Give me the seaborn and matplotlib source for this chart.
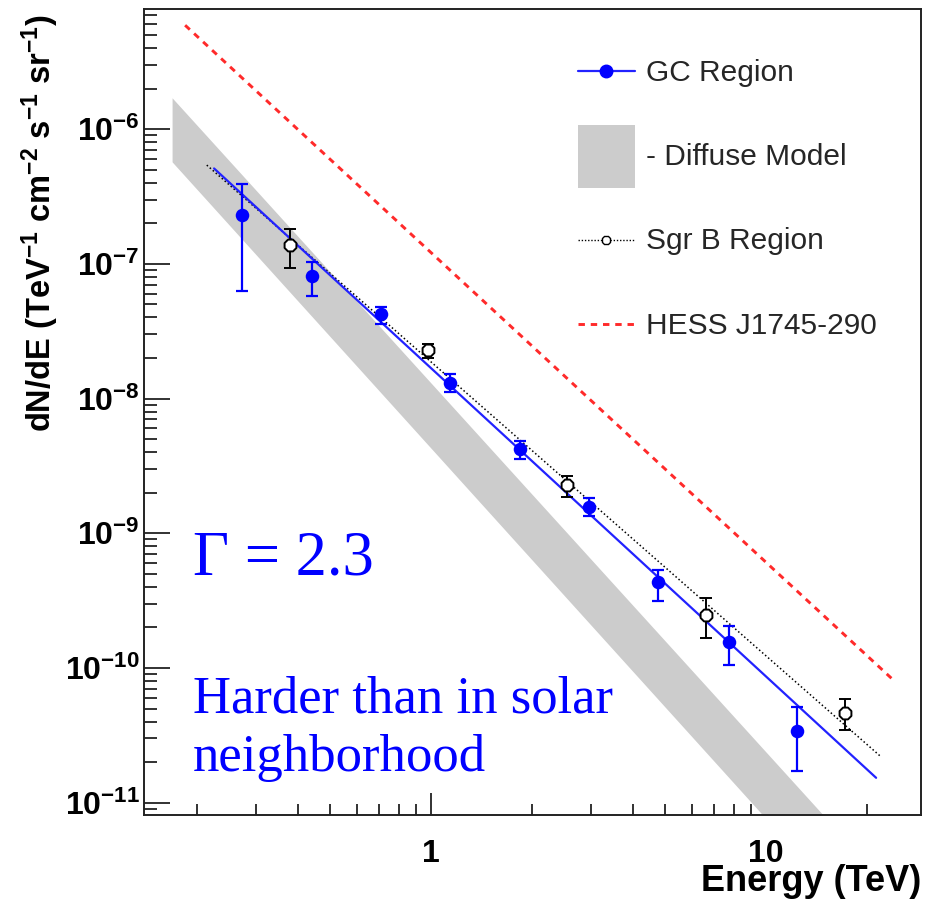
import numpy as np
import pandas as pd
import matplotlib
matplotlib.use("Agg")
import matplotlib.pyplot as plt
import seaborn as sns
from matplotlib.lines import Line2D
from matplotlib.patches import Patch
from matplotlib.legend_handler import HandlerLine2D
from matplotlib.ticker import LogLocator, FixedLocator, NullFormatter

# ---------------- data ----------------
gc_energy = [0.272, 0.44, 0.709, 1.14, 1.84, 2.96, 4.76, 7.77, 12.4]
gc_flux = [2.30e-7, 8.11e-8, 4.21e-8, 1.31e-8, 4.19e-9, 1.57e-9, 4.34e-10, 1.55e-10, 3.41e-11]
gc_flux_hi = [3.89e-7, 1.035e-7, 4.8e-8, 1.52e-8, 4.85e-9, 1.83e-9, 5.32e-10, 2.04e-10, 5.14e-11]
gc_flux_lo = [6.27e-8, 5.75e-8, 3.6e-8, 1.12e-8, 3.53e-9, 1.34e-9, 3.13e-10, 1.06e-10, 1.71e-11]

sgrb_energy = [0.378, 0.978, 2.55, 6.61, 17.2]
sgrb_flux = [1.38e-7, 2.29e-8, 2.28e-9, 2.47e-10, 4.65e-11]
sgrb_flux_hi = [1.80e-7, 2.56e-8, 2.67e-9, 3.30e-10, 5.86e-11]
sgrb_flux_lo = [9.25e-8, 1.99e-8, 1.85e-9, 1.66e-10, 3.49e-11]

gc_fit_energy = [0.225, 21.3]
gc_fit_flux = [5.11e-7, 1.53e-11]

sgrb_fit_energy = [0.214, 21.9]
sgrb_fit_flux = [5.41e-7, 2.22e-11]

hess_energy = [0.1844, 23.7]
hess_flux = [5.91e-6, 8.36e-11]

band_energy = [0.1686, 30.0]
band_upper = [1.71e-6, 1.17e-12]
band_lower = [5.72e-7, 3.7e-13]

x_tick_values = [1, 10]
x_tick_labels = ["1", "10"]
y_tick_exponents = [-11, -10, -9, -8, -7, -6]

# ---------------- style ----------------
sns.set_style("white")
plt.rcParams["font.family"] = ["Liberation Sans", "DejaVu Sans"]
plt.rcParams["mathtext.fontset"] = "custom"
plt.rcParams["mathtext.rm"] = "Liberation Sans"
plt.rcParams["mathtext.bf"] = "Liberation Sans:bold"
plt.rcParams["mathtext.default"] = "regular"

BLUE = "#0000ff"
LINE_BLUE = "#2222ff"
RED = "#ff2a2a"
GRAY = "#cccccc"
SERIF = ["Liberation Serif", "DejaVu Serif"]


class ShiftedLineHandler(HandlerLine2D):
    """Line handler drawn lower in its (tall) legend box, level with the label."""

    def __init__(self, shift_pt=7.0, **kw):
        super().__init__(**kw)
        self.shift_pt = shift_pt

    def create_artists(self, legend, orig_handle, xdescent, ydescent, width, height,
                       fontsize, trans):
        return super().create_artists(legend, orig_handle, xdescent,
                                      ydescent + 2 * self.shift_pt, width, height,
                                      fontsize, trans)


fig = plt.figure(figsize=(9.38, 9.0), dpi=100)
ax = fig.add_axes([144 / 938, 1 - 815 / 900, (921 - 144) / 938, (815 - 9) / 900])
ax.set_xscale("log")
ax.set_yscale("log")
ax.set_xlim(0.139, 29.0)
ax.set_ylim(8.1e-12, 7.8e-6)

# diffuse model band
ax.fill_between(band_energy, band_lower, band_upper, color=GRAY, linewidth=0, zorder=1.6)

# lines
sgrb_df = pd.DataFrame({"E": sgrb_fit_energy, "F": sgrb_fit_flux})
gc_df = pd.DataFrame({"E": gc_fit_energy, "F": gc_fit_flux})
hess_df = pd.DataFrame({"E": hess_energy, "F": hess_flux})
sns.lineplot(data=hess_df, x="E", y="F", ax=ax, color=RED, linewidth=2.1,
             linestyle=(0, (2.2, 2.0)), zorder=3)
sns.lineplot(data=sgrb_df, x="E", y="F", ax=ax, color="black", linewidth=1.1,
             linestyle=(0, (1, 1.6)), zorder=3)
sns.lineplot(data=gc_df, x="E", y="F", ax=ax, color=LINE_BLUE, linewidth=1.6, zorder=3.2)

# error bars
gc_f = np.array(gc_flux)
ax.errorbar(gc_energy, gc_flux,
            yerr=[gc_f - np.array(gc_flux_lo), np.array(gc_flux_hi) - gc_f],
            fmt="none", ecolor=BLUE, elinewidth=1.6, capsize=4.5, capthick=1.6, zorder=4)
sg_f = np.array(sgrb_flux)
ax.errorbar(sgrb_energy, sgrb_flux,
            yerr=[sg_f - np.array(sgrb_flux_lo), np.array(sgrb_flux_hi) - sg_f],
            fmt="none", ecolor="black", elinewidth=1.4, capsize=4.5, capthick=1.4, zorder=4)

# markers
sns.scatterplot(x=gc_energy, y=gc_flux, ax=ax, color=BLUE, s=95, edgecolor=BLUE,
                linewidth=0, zorder=5)
sns.scatterplot(x=sgrb_energy, y=sgrb_flux, ax=ax, color="white", s=85, edgecolor="black",
                linewidth=1.4, marker="8", zorder=5)

# axes styling
for s in ax.spines.values():
    s.set_color("#222222")
    s.set_linewidth(1.4)
ax.tick_params(axis="both", which="both", direction="in", colors="#222222",
               top=False, right=False, bottom=True, left=True)
ax.tick_params(axis="y", which="major", length=19, width=1.3, pad=3, labelsize=23)
ax.tick_params(axis="y", which="minor", length=9, width=1.3)
ax.tick_params(axis="x", which="major", length=16, width=1.3, pad=17.5, labelsize=23)
ax.tick_params(axis="x", which="minor", length=8, width=1.3)

ax.xaxis.set_major_locator(FixedLocator(x_tick_values))
ax.set_xticklabels(x_tick_labels, fontweight="bold")
ax.xaxis.set_minor_locator(LogLocator(base=10, subs=np.arange(2, 10)))
ax.xaxis.set_minor_formatter(NullFormatter())

ax.yaxis.set_major_locator(FixedLocator([10.0 ** e for e in y_tick_exponents]))
ax.set_yticklabels([r"$10^{%d}$" % e for e in y_tick_exponents], fontweight="bold")
ax.yaxis.set_minor_locator(LogLocator(base=10, subs=np.arange(2, 10), numticks=20))
ax.yaxis.set_minor_formatter(NullFormatter())
for lab in ax.get_xticklabels() + ax.get_yticklabels():
    lab.set_color("black")

ax.set_ylabel(r"dN/dE (TeV$^{-1}$ cm$^{-2}$ s$^{-1}$ sr$^{-1}$)", fontsize=23.5,
              fontweight="bold", color="black")
ax.yaxis.set_label_coords((61 - 144) / 777, (815 - 223) / 806)
ax.set_xlabel("Energy (TeV)", fontsize=26, fontweight="bold", color="black",
              loc="right")
ax.xaxis.set_label_coords(1.0, (815 - 864) / 806)

# legend
h_gc = Line2D([], [], color=LINE_BLUE, linewidth=1.6, marker="o", markersize=9,
              markerfacecolor=BLUE, markeredgecolor=BLUE)
h_band = Patch(facecolor=GRAY, edgecolor="none")
h_sgrb = Line2D([], [], color="black", linewidth=1.0, linestyle=(0, (1, 1.3)), marker="8",
                markersize=6, markerfacecolor="white", markeredgecolor="black")
h_hess = Line2D([], [], color=RED, linewidth=2.1, linestyle=(0, (2.2, 2.0)))
handles = [h_gc, h_band, h_sgrb, h_hess]
labels = ["GC Region", "- Diffuse Model", "Sgr B Region", "HESS J1745-290"]
ax.legend(handles, labels, loc="upper left",
          bbox_to_anchor=((578 - 144) / 777, (815 - 41) / 806),
          frameon=False, fontsize=21.5, handlelength=1.9, handleheight=2.85,
          handletextpad=0.38, labelspacing=0.72, borderpad=0, borderaxespad=0,
          numpoints=1,
          handler_map={Line2D: ShiftedLineHandler(shift_pt=7.5)})

# annotations
fig.text(193 / 938, 1 - 574.5 / 900, "\u0393 = 2.3", fontsize=45, color=BLUE,
         family=SERIF, va="baseline", ha="left")
fig.text(193 / 938, 1 - 712.5 / 900, "Harder than in solar", fontsize=38,
         color=BLUE, family=SERIF, va="baseline", ha="left")
fig.text(193 / 938, 1 - 771.5 / 900, "neighborhood", fontsize=38,
         color=BLUE, family=SERIF, va="baseline", ha="left")

fig.savefig("out.png", dpi=100)
